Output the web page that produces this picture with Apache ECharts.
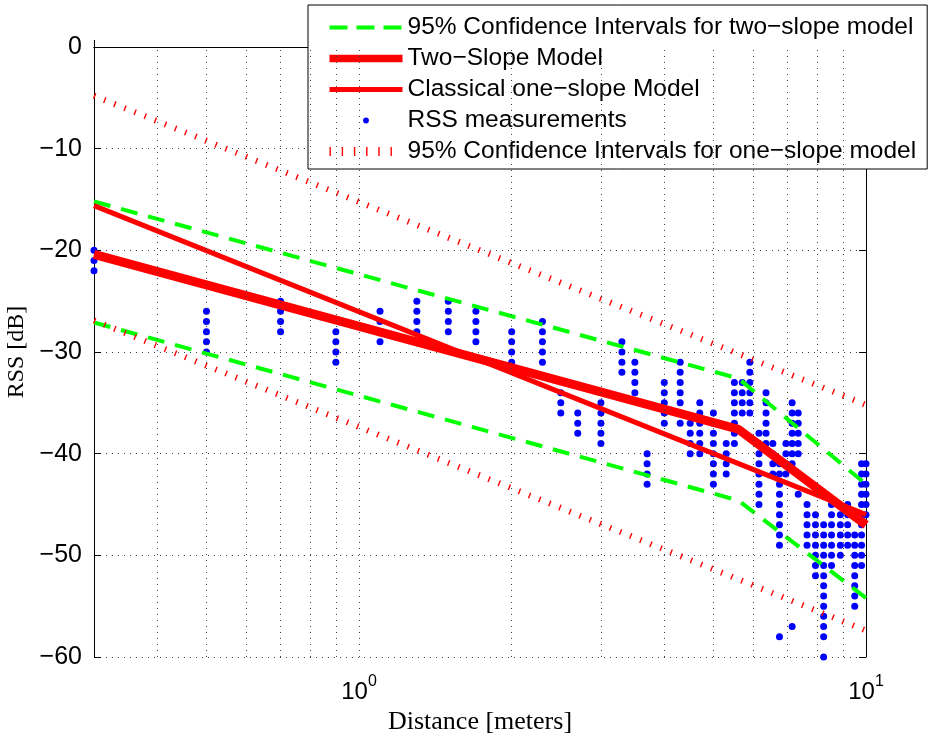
<!DOCTYPE html>
<html>
<head>
<meta charset="utf-8">
<script src="https://cdn.jsdelivr.net/npm/echarts@6/dist/echarts.min.js"></script>
<style>
html, body { margin: 0; padding: 0; background: #fff; }
#chart { width: 935px; height: 735px; }
</style>
</head>
<body>
<div id="chart"></div>
<script>
// measurement distances (m), one column of RSS readings (dB) per distance
const distances = [0.3, 0.5, 0.7, 0.9, 1.1, 1.3, 1.5, 1.7, 2.0, 2.3, 2.5, 2.7, 3.0, 3.3, 3.5, 3.7,
  4.0, 4.3, 4.5, 4.7, 5.0, 5.3, 5.5, 5.7, 5.9, 6.15, 6.35, 6.55, 6.75, 6.95, 7.15, 7.35,
  7.65, 7.95, 8.25, 8.55, 8.9, 9.2, 9.5, 9.8, 10];
const rssColumns = [
  [-20, -21, -22],
  [-26, -27, -28, -29, -30],
  [-25, -26, -27, -28],
  [-28, -29, -30, -31],
  [-26, -27, -28, -29],
  [-25, -26, -27, -28, -29],
  [-25, -26, -27, -28],
  [-26, -27, -28, -29],
  [-28, -29, -30, -31],
  [-27, -28, -29, -30, -31],
  [-34, -35, -36],
  [-36, -37, -38],
  [-35, -36, -37, -38, -39],
  [-29, -30, -31, -32],
  [-31, -32, -33, -34],
  [-40, -41, -42, -43],
  [-33, -34, -35, -36, -37],
  [-31, -32, -33, -34, -35, -36, -37],
  [-37, -38, -39, -40],
  [-35, -36, -37, -38, -39, -40],
  [-36, -37, -38, -39, -40, -41, -42, -43],
  [-39, -40, -41, -42],
  [-33, -34, -35, -36, -37, -38, -39],
  [-33, -34, -35, -36],
  [-31, -32, -33, -34, -35, -36],
  [-38, -39, -40, -41, -42, -43, -44, -45],
  [-34, -35, -36, -37, -38, -39],
  [-39, -40, -41, -42],
  [-41, -42, -43, -44, -45, -46, -47, -48, -49, -58],
  [-39, -40, -41, -42],
  [-35, -36, -37, -38, -39, -40, -41, -57],
  [-36, -37, -38, -39, -40, -44],
  [-45, -46, -47, -48, -49],
  [-46, -47, -48, -49, -50, -51, -52],
  [-47, -48, -49, -50, -51, -52, -53, -54, -55, -56, -57, -58, -60],
  [-45, -46, -47, -48, -49, -50, -51],
  [-46, -47, -48, -49, -50],
  [-45, -46, -47, -48, -49],
  [-48, -49, -50, -51, -52, -53, -54, -55],
  [-41, -42, -43, -44, -45, -46, -47, -48, -49, -50, -51],
  [-41, -42, -43, -44, -45, -46]
];

// two-slope model (break at ~5.6 m) and its 95% bounds
const twoSlopeX = [0.3, 5.6, 10];
const twoSlopeY = [-20.4, -37.6, -47.0];
const twoUpperY = [-15.2, -32.6, -43.0];
const twoLowerY = [-27.1, -44.6, -54.2];

// classical one-slope model and its 95% bounds
const oneSlopeX = [0.3, 10];
const oneSlopeY = [-15.6, -46.0];
const oneUpperY = [-4.8, -35.2];
const oneLowerY = [-26.9, -57.4];

const xGridValues = [0.4, 0.5, 0.6, 0.7, 0.8, 0.9, 1, 2, 3, 4, 5, 6, 7, 8, 9];

const NAME_TWO_CI = '95% Confidence Intervals for two\u2212slope model';
const NAME_TWO = 'Two\u2212Slope Model';
const NAME_ONE = 'Classical one\u2212slope Model';
const NAME_RSS = 'RSS measurements';
const NAME_ONE_CI = '95% Confidence Intervals for one\u2212slope model';

function pairs(xs, ys) {
  return xs.map((x, i) => [x, ys[i]]);
}

const rssPoints = [];
distances.forEach((d, i) => {
  rssColumns[i].forEach(v => rssPoints.push([d, v]));
});

const sans = 'Liberation Sans, Arial, Helvetica, sans-serif';
const serif = 'Liberation Serif, Times New Roman, serif';
const gridDots = { color: '#444', width: 1, type: [1, 5] };

// line series share this; itemStyle opacity 0 keeps the legend icon a plain line
function lineSeries(name, xs, ys, lineStyle) {
  return {
    type: 'line',
    name: name,
    data: pairs(xs, ys),
    symbol: 'none',
    lineStyle: lineStyle,
    itemStyle: { color: lineStyle.color, opacity: 0 },
    z: 3
  };
}

const greenDash = { color: '#00ff00', width: 4, type: [17, 11] };
// matlab's ':' renders as short strokes across the line
const redDot = { color: '#ff0000', width: 6, type: [1.4, 9.5] };

const chart = echarts.init(document.getElementById('chart'));
const option = {
  animation: false,
  backgroundColor: '#fff',
  grid: { left: 94, right: 69, top: 47, bottom: 78, show: false, outerBoundsMode: 'none' },
  legend: {
    left: 308,
    top: 5,
    orient: 'vertical',
    selectedMode: false,
    backgroundColor: '#fff',
    borderColor: '#000',
    borderWidth: 1,
    borderRadius: 0,
    padding: [10, 11, 5, 17],
    itemWidth: 73,
    itemHeight: 24,
    itemGap: 6,
    textStyle: { fontFamily: sans, fontSize: 24.5, color: '#000', lineHeight: 24 },
    data: [
      { name: NAME_TWO_CI, lineStyle: { width: 4, type: [18, 9] } },
      { name: NAME_TWO, lineStyle: { width: 7.5 } },
      { name: NAME_ONE, lineStyle: { width: 5 } },
      { name: NAME_RSS, icon: 'path://M0,0M10,10M3.8,5a1.2,1.2 0 1,0 2.4,0a1.2,1.2 0 1,0 -2.4,0z' },
      { name: NAME_ONE_CI, lineStyle: { width: 9, type: [1.4, 10.8] } }
    ]
  },
  xAxis: [{
    type: 'log',
    logBase: 10,
    min: 0.3,
    max: 10,
    name: 'Distance [meters]',
    nameLocation: 'middle',
    nameGap: 46,
    nameTextStyle: { fontFamily: serif, fontSize: 26, color: '#000' },
    axisLine: { lineStyle: { color: '#000', width: 1 } },
    axisTick: { inside: true, length: 7, lineStyle: { color: '#000' } },
    axisLabel: {
      margin: 17,
      fontFamily: sans,
      fontSize: 24,
      color: '#000',
      formatter: function (v) {
        if (Math.abs(v - 1) < 1e-6) return '10{s|0}';
        if (Math.abs(v - 10) < 1e-6) return '10{s|1}';
        return '';
      },
      rich: { s: { fontFamily: sans, fontSize: 16, verticalAlign: 'top', padding: [0, 0, 20, 0] } }
    },
    splitLine: { show: false }
  }, {
    type: 'log',
    logBase: 10,
    min: 0.3,
    max: 10,
    position: 'top',
    axisLine: { lineStyle: { color: '#000', width: 1 } },
    axisTick: { inside: true, length: 7, lineStyle: { color: '#000' } },
    axisLabel: { show: false },
    splitLine: { show: false }
  }],
  yAxis: [{
    type: 'value',
    min: -60,
    max: 0,
    interval: 10,
    name: 'RSS [dB]',
    nameLocation: 'middle',
    nameGap: 64,
    nameTextStyle: { fontFamily: serif, fontSize: 24, color: '#000' },
    axisLine: { lineStyle: { color: '#000', width: 1 } },
    axisTick: { inside: true, length: 7, lineStyle: { color: '#000' } },
    axisLabel: {
      margin: 12,
      fontFamily: sans,
      fontSize: 25,
      color: '#000',
      formatter: v => String(v).replace('-', '\u2212')
    },
    splitLine: { show: true, lineStyle: gridDots }
  }, {
    type: 'value',
    min: -60,
    max: 0,
    interval: 10,
    position: 'right',
    axisLine: { show: true, lineStyle: { color: '#000', width: 1 } },
    axisTick: { inside: true, length: 7, lineStyle: { color: '#000' } },
    axisLabel: { show: false },
    splitLine: { show: false }
  }],
  series: [
    {
      // vertical dotted grid at every decade subdivision
      type: 'line',
      name: 'xgrid',
      data: [],
      silent: true,
      z: 1,
      markLine: {
        silent: true,
        symbol: ['none', 'none'],
        label: { show: false },
        lineStyle: gridDots,
        data: xGridValues.map(v => ({ xAxis: v }))
      }
    },
    {
      type: 'scatter',
      name: NAME_RSS,
      data: rssPoints,
      symbol: 'circle',
      symbolSize: 7,
      itemStyle: { color: '#0000ff', opacity: 1 },
      z: 2
    },
    lineSeries(NAME_TWO_CI, twoSlopeX, twoUpperY, greenDash),
    lineSeries(NAME_TWO_CI, twoSlopeX, twoLowerY, greenDash),
    lineSeries(NAME_TWO, twoSlopeX, twoSlopeY, { color: '#ff0000', width: 9 }),
    lineSeries(NAME_ONE, oneSlopeX, oneSlopeY, { color: '#ff0000', width: 5 }),
    lineSeries(NAME_ONE_CI, oneSlopeX, oneUpperY, redDot),
    lineSeries(NAME_ONE_CI, oneSlopeX, oneLowerY, redDot)
  ]
};
chart.setOption(option);
</script>
</body>
</html>
